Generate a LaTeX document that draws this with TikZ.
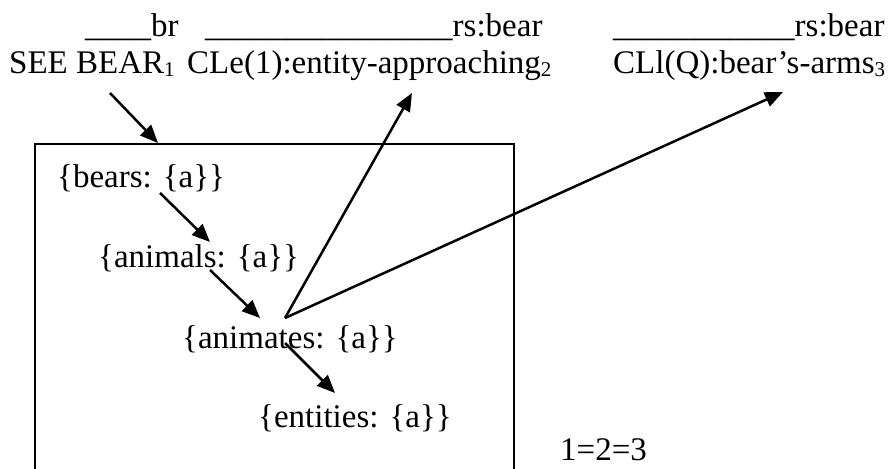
\documentclass[tikz,border=0pt]{standalone}
\usepackage{fontspec}
\setmainfont{Liberation Serif}
\usepackage{tikz}
\usetikzlibrary{arrows.meta, positioning, calc}
\newcommand{\lowidx}[1]{\raisebox{-3pt}{\fontsize{21}{24}\selectfont #1}}
\tikzset{
  word/.style={inner sep=0pt, anchor=base west, font=\fontsize{33}{38}\selectfont},
  arrow/.style={-{Triangle[length=18pt, width=15pt]}, line width=2.5pt},
  frame/.style={draw, line width=2pt, inner sep=0pt}
}

\begin{document}
\begin{tikzpicture}[x=1pt, y=-1pt]
  \useasboundingbox (0,0) rectangle (893,468);

  % Top lines
  \node[word] (brline) at (85,37) {\_\_\_\_br};
  \node[word] (rsone) at (205,37) {\_\_\_\_\_\_\_\_\_\_\_\_\_\_\_rs:bear};
  \node[word] (rstwo) at (613,37) {\_\_\_\_\_\_\_\_\_\_\_rs:bear};
  \node[word] (see) at (9,74) {SEE BEAR\lowidx{1}};
  \node[word] (cle) at (187,74) {CLe(1):entity-approaching\lowidx{2}};
  \node[word] (cll) at (613,74) {CLl(Q):bear's-arms\lowidx{3}};

  % Box
  \node[frame, anchor=north west, minimum width=479pt, minimum height=340pt] (box) at (34,143) {};

  % Hierarchy
  \node[word] (bears) at (57,187) {\{bears: \{a\}\}};
  \node[word] (animals) at (98,267) {\{animals: \{a\}\}};
  \node[word] (animates) at (182,348) {\{animates: \{a\}\}};
  \node[word] (entities) at (258,427) {\{entities: \{a\}\}};
  \node[word] (same) at (560,460) {1=2=3};

  % Arrows
  \draw[arrow] ([shift={(101pt,-19pt)}]see.base west) -- ([xshift=124pt]box.north west);
  \draw[arrow] ([shift={(103pt,-6pt)}]bears.base west) -- ([shift={(112pt,25pt)}]animals.base west);
  \draw[arrow] ([shift={(112pt,-3pt)}]animals.base west) -- ([shift={(78pt,30pt)}]animates.base west);
  \draw[arrow] ([shift={(103pt,5pt)}]animates.base west) -- ([shift={(77pt,34pt)}]entities.base west);
  \coordinate (fork) at ([shift={(103pt,30pt)}]animates.base west);
  \draw[arrow] (fork) -- ([shift={(225pt,-19pt)}]cle.base west);
  \draw[arrow] (fork) -- ([shift={(170pt,-18pt)}]cll.base west);
\end{tikzpicture}
\end{document}
